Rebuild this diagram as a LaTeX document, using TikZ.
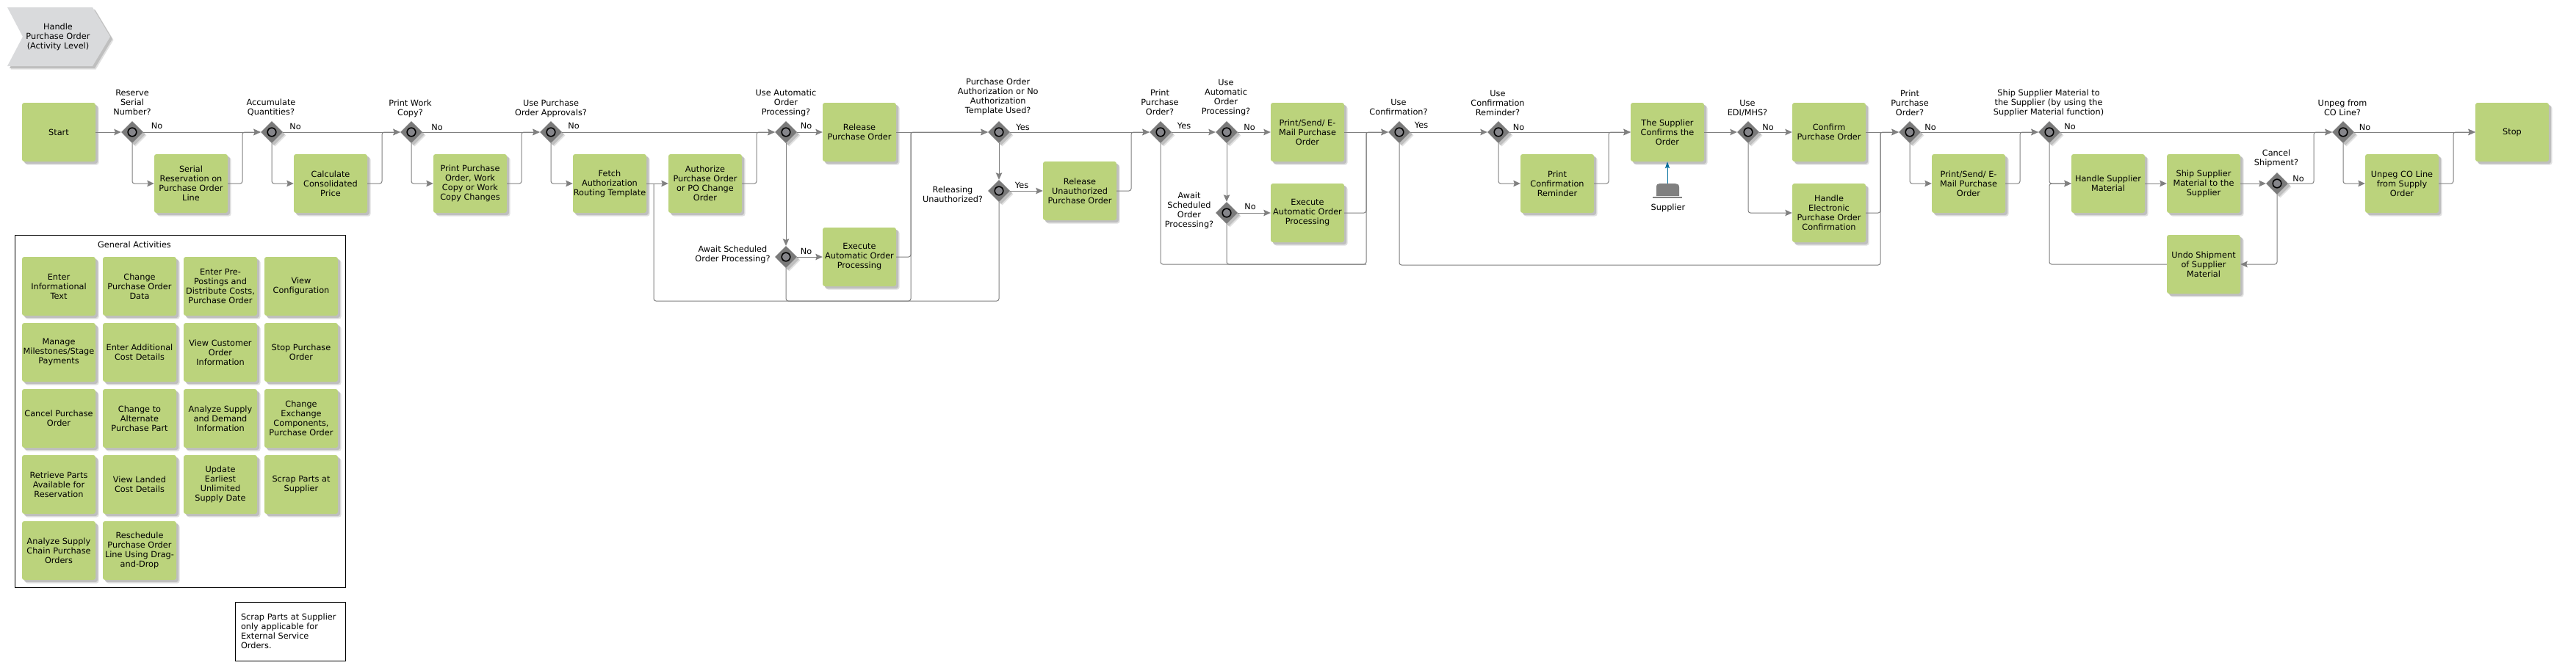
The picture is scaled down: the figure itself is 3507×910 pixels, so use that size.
\documentclass[tikz,border=0pt]{standalone}
\usepackage{fontspec}
\setmainfont{DejaVu Sans}
\usetikzlibrary{arrows.meta,shapes.geometric}
\definecolor{actgreen}{HTML}{BBD37C}
\definecolor{linegray}{HTML}{808080}
\definecolor{diagray}{HTML}{7A7A7A}
\definecolor{ringfill}{HTML}{85858A}
\definecolor{chevgray}{HTML}{D9DADC}
\definecolor{supblue}{HTML}{006E9C}
\tikzset{
  softshadow/.style={
    preaction={draw=none,fill=black!12,transform canvas={xshift=4.5pt,yshift=-4.5pt}},
    preaction={draw=none,fill=black!25,transform canvas={xshift=3pt,yshift=-3pt}}},
  txt/.style={font=\fontsize{11.3}{13}\selectfont,align=center,inner sep=0pt},
  act/.style={txt,shape=rectangle,fill=actgreen,rounded corners=3pt,minimum width=100pt,minimum height=80pt,softshadow},
  gate/.style={shape=diamond,aspect=1,fill=diagray,minimum width=30pt,minimum height=30pt,inner sep=0pt,softshadow,
    path picture={\draw[black,line width=1.6pt,fill=ringfill] (path picture bounding box.center) circle (5.8pt);}},
  lab/.style={txt},
  frame/.style={draw=black,line width=1pt,fill=white,shape=rectangle,inner sep=0pt},
  line/.style={draw=linegray,line width=1pt,rounded corners=3pt},
  flow/.style={line,-{Stealth[length=9.5pt,width=8.5pt,inset=1.5pt]}},
  supflow/.style={draw=supblue,line width=1pt,-{Stealth[length=9pt,width=6pt,inset=1.5pt]}}
}
\begin{document}
\begin{tikzpicture}[x=1pt,y=-1pt]
\useasboundingbox (0,0) rectangle (3507,910);
% header chevron
\fill[chevgray,softshadow] (10,10) -- (126,10) -- (150,50) -- (126,90) -- (10,90) -- (31,50) -- cycle;
\node[txt] (title) at (79,50) {Handle\\Purchase Order\\(Activity Level)};
% frames
\node[frame,minimum width=450pt,minimum height=480pt] (gaframe) at (245,560) {};
\node[lab] (gatitle) at (183,333) {General Activities};
\node[frame,minimum width=150pt,minimum height=80pt,txt,draw=black,line width=1pt,align=left,text width=134pt,inner xsep=8pt] (note) at (395,860) {Scrap Parts at Supplier\\only applicable for\\External Service\\Orders.};
% general activities
\node[act] (g11) at (80,390) {Enter\\Informational\\Text};
\node[act] (g12) at (190,390) {Change\\Purchase Order\\Data};
\node[act] (g13) at (300,390) {Enter Pre-\\Postings and\\Distribute Costs,\\Purchase Order};
\node[act] (g14) at (410,390) {View\\Configuration};
\node[act] (g21) at (80,480) {Manage\\Milestones/Stage\\Payments};
\node[act] (g22) at (190,480) {Enter Additional\\Cost Details};
\node[act] (g23) at (300,480) {View Customer\\Order\\Information};
\node[act] (g24) at (410,480) {Stop Purchase\\Order};
\node[act] (g31) at (80,570) {Cancel Purchase\\Order};
\node[act] (g32) at (190,570) {Change to\\Alternate\\Purchase Part};
\node[act] (g33) at (300,570) {Analyze Supply\\and Demand\\Information};
\node[act] (g34) at (410,570) {Change\\Exchange\\Components,\\Purchase Order};
\node[act] (g41) at (80,660) {Retrieve Parts\\Available for\\Reservation};
\node[act] (g42) at (190,660) {View Landed\\Cost Details};
\node[act] (g43) at (300,660) {Update\\Earliest\\Unlimited\\Supply Date};
\node[act] (g44) at (410,660) {Scrap Parts at\\Supplier};
\node[act] (g51) at (80,750) {Analyze Supply\\Chain Purchase\\Orders};
\node[act] (g52) at (190,750) {Reschedule\\Purchase Order\\Line Using Drag-\\and-Drop};
% main activities
\node[act] (start) at (80,180) {Start};
\node[act] (ser) at (260,250) {Serial\\Reservation on\\Purchase Order\\Line};
\node[act] (calc) at (450,250) {Calculate\\Consolidated\\Price};
\node[act] (pwc) at (640,250) {Print Purchase\\Order, Work\\Copy or Work\\Copy Changes};
\node[act] (fetch) at (830,250) {Fetch\\Authorization\\Routing Template};
\node[act] (auth) at (960,250) {Authorize\\Purchase Order\\or PO Change\\Order};
\node[act] (rel) at (1170,180) {Release\\Purchase Order};
\node[act] (exe) at (1170,350) {Execute\\Automatic Order\\Processing};
\node[act] (runauth) at (1470,260) {Release\\Unauthorized\\Purchase Order};
\node[act] (ps) at (1780,180) {Print/Send/ E-\\Mail Purchase\\Order};
\node[act] (exb) at (1780,290) {Execute\\Automatic Order\\Processing};
\node[act] (pc) at (2120,250) {Print\\Confirmation\\Reminder};
\node[act] (sup) at (2270,180) {The Supplier\\Confirms the\\Order};
\node[act] (conf) at (2490,180) {Confirm\\Purchase Order};
\node[act] (hand) at (2490,290) {Handle\\Electronic\\Purchase Order\\Confirmation};
\node[act] (psb) at (2680,250) {Print/Send/ E-\\Mail Purchase\\Order};
\node[act] (hs) at (2870,250) {Handle Supplier\\Material};
\node[act] (ss) at (3000,250) {Ship Supplier\\Material to the\\Supplier};
\node[act] (undo) at (3000,360) {Undo Shipment\\of Supplier\\Material};
\node[act] (ub) at (3270,250) {Unpeg CO Line\\from Supply\\Order};
\node[act] (stop) at (3420,180) {Stop};
% gateways
\node[gate] (d1) at (180,180) {};
\node[gate] (d2) at (370,180) {};
\node[gate] (d3) at (560,180) {};
\node[gate] (d4) at (750,180) {};
\node[gate] (d5) at (1070,180) {};
\node[gate] (d6) at (1070,350) {};
\node[gate] (d7) at (1360,180) {};
\node[gate] (d8) at (1360,260) {};
\node[gate] (d9) at (1580,180) {};
\node[gate] (d10) at (1670,180) {};
\node[gate] (d11) at (1670,290) {};
\node[gate] (d12) at (1905,180) {};
\node[gate] (d13) at (2040,180) {};
\node[gate] (d14) at (2380,180) {};
\node[gate] (d15) at (2600,180) {};
\node[gate] (d16) at (2790,180) {};
\node[gate] (d17) at (3100,250) {};
\node[gate] (d18) at (3190,180) {};
% gateway labels
\node[lab] (t1) at (180,139) {Reserve\\Serial\\Number?};
\node[lab] (t2) at (369,146.5) {Accumulate\\Quantities?};
\node[lab] (t3) at (558.5,147.5) {Print Work\\Copy?};
\node[lab] (t4) at (750,147.5) {Use Purchase\\Order Approvals?};
\node[lab] (t5) at (1070,140) {Use Automatic\\Order\\Processing?};
\node[lab] (t6) at (997.5,346.7) {Await Scheduled\\Order Processing?};
\node[lab] (t7) at (1358.7,132) {Purchase Order\\Authorization or No\\Authorization\\Template Used?};
\node[lab] (t8) at (1297,265) {Releasing\\Unauthorized?};
\node[lab] (t9) at (1579,139) {Print\\Purchase\\Order?};
\node[lab] (t10) at (1669,133) {Use\\Automatic\\Order\\Processing?};
\node[lab] (t11) at (1619,287) {Await\\Scheduled\\Order\\Processing?};
\node[lab] (t12) at (1904,146) {Use\\Confirmation?};
\node[lab] (t13) at (2039,140) {Use\\Confirmation\\Reminder?};
\node[lab] (t14) at (2379,147) {Use\\EDI/MHS?};
\node[lab] (t15) at (2600,140) {Print\\Purchase\\Order?};
\node[lab] (t16) at (2789,140) {Ship Supplier Material to\\the Supplier (by using the\\Supplier Material function)};
\node[lab] (t17) at (3099,216) {Cancel\\Shipment?};
\node[lab] (t18) at (3189,147) {Unpeg from\\CO Line?};
% branch labels
\node[lab] (n1) at (213.5,171) {No};
\node[lab] (n2) at (402,172) {No};
\node[lab] (n3) at (595,173) {No};
\node[lab] (n4) at (781,171) {No};
\node[lab] (n5) at (1097.5,171) {No};
\node[lab] (n6) at (1097.5,342) {No};
\node[lab] (n7) at (1392.5,173) {Yes};
\node[lab] (n8) at (1391,252) {Yes};
\node[lab] (n9) at (1612,171) {Yes};
\node[lab] (n10) at (1701,173) {No};
\node[lab] (n11) at (1702,281) {No};
\node[lab] (n12) at (1935,170) {Yes};
\node[lab] (n13) at (2067.5,173) {No};
\node[lab] (n14) at (2407,173) {No};
\node[lab] (n15) at (2628,173) {No};
\node[lab] (n16) at (2818,172) {No};
\node[lab] (n17) at (3129,243) {No};
\node[lab] (n18) at (3219.5,173) {No};
% junction points
\coordinate (j1) at (330,180);
\coordinate (j2) at (520,180);
\coordinate (j3) at (710,180);
\coordinate (j4) at (890,250);
\coordinate (j4b) at (890,410);
\coordinate (j5) at (1030,180);
\coordinate (jb) at (1240,410);
\coordinate (jt) at (1240,180);
\coordinate (j7) at (1540,180);
\coordinate (jc) at (1860,360);
\coordinate (jd) at (1860,180);
\coordinate (je) at (2560,361);
\coordinate (jf) at (2560,180);
\coordinate (jg) at (2190,180);
\coordinate (jh) at (2750,180);
\coordinate (ji) at (3150,180);
\coordinate (jk) at (2790,360);
\coordinate (jk2) at (2790,250);
\coordinate (jl) at (3340,180);
\coordinate (supi) at (2270,250);
% connectors
\draw[flow] (start.east) -- (d1.west);
\draw[flow] (d1.east) -- (d2.west);
\draw[flow] (d1.south) |- (ser.west);
\draw[flow] (ser.east) -| (j1) -- (d2.west);
\draw[flow] (d2.east) -- (d3.west);
\draw[flow] (d2.south) |- (calc.west);
\draw[flow] (calc.east) -| (j2) -- (d3.west);
\draw[flow] (d3.east) -- (d4.west);
\draw[flow] (d3.south) |- (pwc.west);
\draw[flow] (pwc.east) -| (j3) -- (d4.west);
\draw[flow] (d4.east) -- (d5.west);
\draw[flow] (d4.south) |- (fetch.west);
\draw[flow] (fetch.east) -- (auth.west);
\draw[flow] (auth.east) -| (j5) -- (d5.west);
\draw[flow] (d5.east) -- (rel.west);
\draw[flow] (d5.south) -- (d6.north);
\draw[flow] (d6.east) -- (exe.west);
\draw[flow] (j4) -- (j4b) -- (jb) -- (jt) -- (d7.west);
\draw[line] (d6.south) |- (jb);
\draw[line] (exe.east) -| (jt);
\draw[line] (d8.south) |- (jb);
\draw[flow] (rel.east) -- (d7.west);
\draw[flow] (d7.east) -- (d9.west);
\draw[flow] (d7.south) -- (d8.north);
\draw[flow] (d8.east) -- (runauth.west);
\draw[flow] (runauth.east) -| (j7) -- (d9.west);
\draw[flow] (d9.east) -- (d10.west);
\draw[flow] (d9.south) |- (jc) -- (jd) -- (d12.west);
\draw[flow] (d10.east) -- (ps.west);
\draw[flow] (d10.south) -- (d11.north);
\draw[flow] (d11.east) -- (exb.west);
\draw[line] (d11.south) |- (jc);
\draw[line] (exb.east) -| (jd);
\draw[flow] (ps.east) -- (d12.west);
\draw[flow] (d12.east) -- (d13.west);
\draw[flow] (d12.south) |- (je) -- (jf) -- (d15.west);
\draw[flow] (d13.east) -- (sup.west);
\draw[flow] (d13.south) |- (pc.west);
\draw[flow] (pc.east) -| (jg) -- (sup.west);
\draw[flow] (sup.east) -- (d14.west);
\draw[flow] (d14.east) -- (conf.west);
\draw[flow] (d14.south) |- (hand.west);
\draw[flow] (conf.east) -- (d15.west);
\draw[line] (hand.east) -| (jf);
\draw[flow] (d15.east) -- (d16.west);
\draw[flow] (d15.south) |- (psb.west);
\draw[flow] (psb.east) -| (jh) -- (d16.west);
\draw[flow] (d16.east) -- (d18.west);
\draw[flow] (d16.south) |- (hs.west);
\draw[flow] (hs.east) -- (ss.west);
\draw[flow] (ss.east) -- (d17.west);
\draw[flow] (d17.east) -| (ji) -- (d18.west);
\draw[flow] (d17.south) |- (undo.east);
\draw[flow] (undo.west) -- (jk) -- (jk2) -- (hs.west);
\draw[flow] (d18.east) -- (stop.west);
\draw[flow] (d18.south) |- (ub.west);
\draw[flow] (ub.east) -| (jl) -- (stop.west);
% supplier icon
\fill[linegray] (2255,267) -- (2255,255) .. controls (2255,251) and (2257,250) .. (2260,250) -- (2280,250) .. controls (2283,250) and (2286,251) .. (2286,255) -- (2286,267) -- cycle;
\fill[linegray] (2250,267.5) rectangle (2290,270);
\node[lab] (suplab) at (2271,283) {Supplier};
\draw[supflow] (supi) -- (sup.south);
\end{tikzpicture}
\end{document}
